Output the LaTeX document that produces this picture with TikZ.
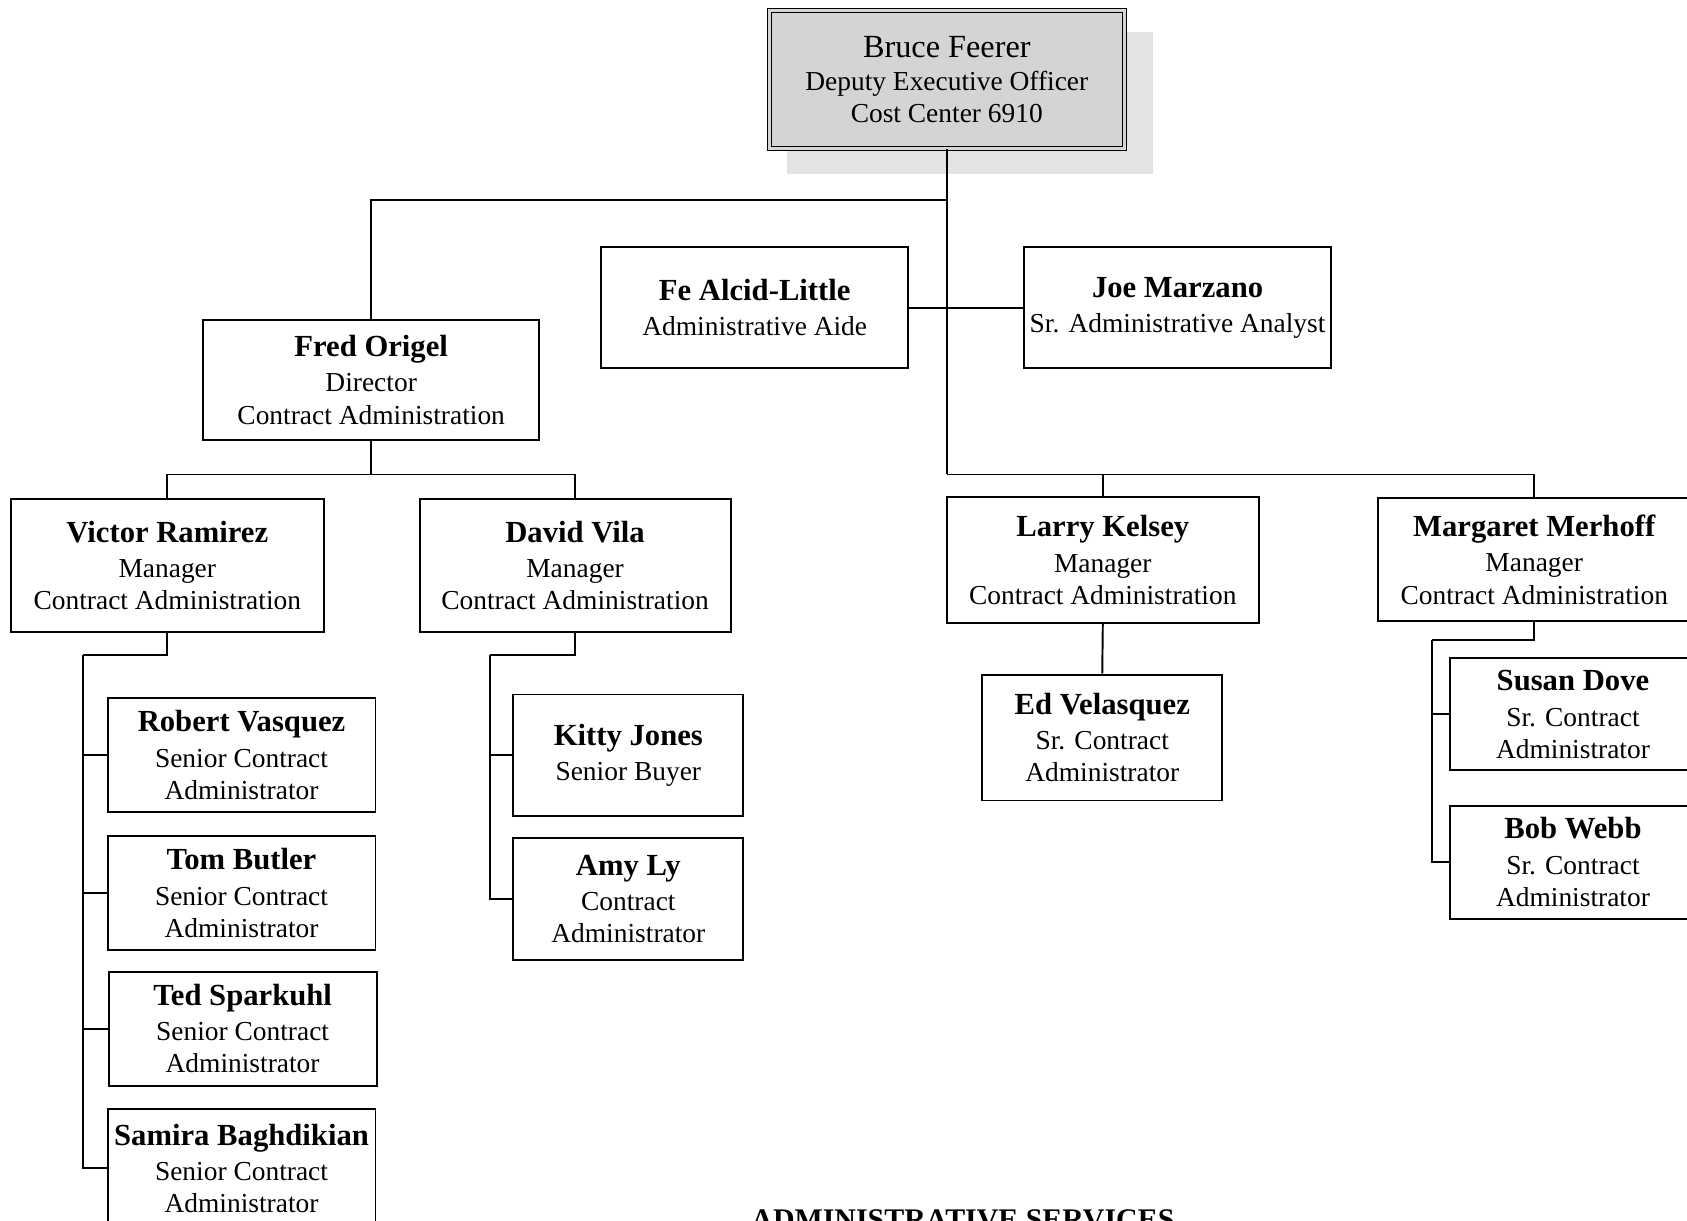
\documentclass[tikz,border=0pt]{standalone}
\usepackage{fontspec}
\setmainfont{Liberation Serif}
\usetikzlibrary{shadows}
\definecolor{boxgray}{HTML}{D4D4D4}
\definecolor{shadowgray}{HTML}{E3E3E3}
\newcommand{\bodyfont}{\fontsize{25.5}{30}\selectfont}
\newcommand{\nm}[1]{{\fontsize{28.5}{30}\selectfont\bfseries #1}}
\begin{document}
\begin{tikzpicture}[x=1pt,y=-1pt,
  box/.style={draw, line width=1.8pt, inner sep=0pt, align=center, font=\bodyfont, fill=white},
  conn/.style={line width=1.8pt}]
\useasboundingbox (0,0) rectangle (1568,1134);
\clip (0,0) rectangle (1568,1134);

% junction coordinates
\coordinate (jtop) at (880,186);
\coordinate (jright) at (880,441);
\coordinate (jfred) at (345,441);
\coordinate (jvic) at (77,609);
\coordinate (jdav) at (455,609);
\coordinate (jmar) at (1331,595);

% top box
\node[box, fill=boxgray, line width=1.3pt, double=boxgray, double distance=2.4pt,
      drop shadow={shadow xshift=21pt, shadow yshift=-21pt, shadow scale=1.03, fill=shadowgray, opacity=1},
      minimum width=330pt, minimum height=128pt] (bruce) at (880,74)
  {{\fontsize{30}{30}\selectfont Bruce Feerer}\\[0pt]Deputy Executive Officer\\Cost Center 6910};

\node[box, minimum width=285pt, minimum height=112pt] (fe) at (701.5,286)
  {\nm{Fe Alcid-Little}\\[3pt]Administrative Aide};
\node[box, minimum width=285pt, minimum height=112pt] (joe) at (1094.5,286)
  {\nm{Joe Marzano}\\[3pt]Sr. Administrative Analyst};

\node[box, minimum width=312pt, minimum height=112pt] (fred) at (345,353)
  {\nm{Fred Origel}\\[3pt]Director\\Contract Administration};

\node[box, minimum width=291pt, minimum height=123pt] (victor) at (155.5,525.5)
  {\nm{Victor Ramirez}\\[3pt]Manager\\Contract Administration};
\node[box, minimum width=289pt, minimum height=123pt] (david) at (534.5,525.5)
  {\nm{David Vila}\\[3pt]Manager\\Contract Administration};
\node[box, minimum width=290pt, minimum height=117pt] (larry) at (1025,520.5)
  {\nm{Larry Kelsey}\\[3pt]Manager\\Contract Administration};
\node[box, minimum width=290pt, minimum height=114pt] (marg) at (1426,520)
  {\nm{Margaret Merhoff}\\[3pt]Manager\\Contract Administration};

\node[box, minimum width=223pt, minimum height=117pt] (ed) at (1024.5,685.5)
  {\nm{Ed Velasquez}\\[3pt]Sr. Contract\\Administrator};
\node[box, minimum width=228pt, minimum height=104pt] (susan) at (1462,664)
  {\nm{Susan Dove}\\[3pt]Sr. Contract\\Administrator};
\node[box, minimum width=228pt, minimum height=105pt] (bob) at (1462,801.5)
  {\nm{Bob Webb}\\[3pt]Sr. Contract\\Administrator};

\node[box, minimum width=249pt, minimum height=106pt] (robert) at (224.5,702)
  {\nm{Robert Vasquez}\\[3pt]Senior Contract\\Administrator};
\node[box, minimum width=249pt, minimum height=106pt] (tom) at (224.5,830)
  {\nm{Tom Butler}\\[3pt]Senior Contract\\Administrator};
\node[box, minimum width=249pt, minimum height=106pt] (ted) at (225.5,956)
  {\nm{Ted Sparkuhl}\\[3pt]Senior Contract\\Administrator};
\node[box, minimum width=249pt, minimum height=110pt] (samira) at (224.5,1086)
  {\nm{Samira Baghdikian}\\[3pt]Senior Contract\\Administrator};

\node[box, minimum width=214pt, minimum height=113pt] (kitty) at (584,702)
  {\nm{Kitty Jones}\\[3pt]Senior Buyer};
\node[box, minimum width=214pt, minimum height=113pt] (amy) at (584,835.5)
  {\nm{Amy Ly}\\[3pt]Contract\\Administrator};

\node[font=\fontsize{27.8}{30}\selectfont\bfseries, anchor=base, inner sep=0pt] (title) at (895,1143)
  {ADMINISTRATIVE SERVICES};

% connectors
\draw[conn] (bruce.south) -- (jright);
\draw[conn] (fred.north) |- (jtop);
\draw[conn] (fe.east) -- (joe.west);
\draw[conn] (larry.north) |- (jright);
\draw[conn] (jright) -| (marg.north);
\draw[conn] (fred.south) -- (jfred);
\draw[conn] (victor.north) |- (jfred) -| (david.north);
\draw[conn] (victor.south) |- (jvic);
\draw[conn] (jvic) |- (robert.west);
\draw[conn] (jvic) |- (tom.west);
\draw[conn] (jvic) |- (ted.west);
\draw[conn] (jvic) |- (samira.west);
\draw[conn] (david.south) |- (jdav);
\draw[conn] (jdav) |- (kitty.west);
\draw[conn] (jdav) |- (amy.west);
\draw[conn] (larry.south) -- (ed.north);
\draw[conn] (marg.south) |- (jmar);
\draw[conn] (jmar) |- (susan.west);
\draw[conn] (jmar) |- (bob.west);
\end{tikzpicture}
\end{document}
